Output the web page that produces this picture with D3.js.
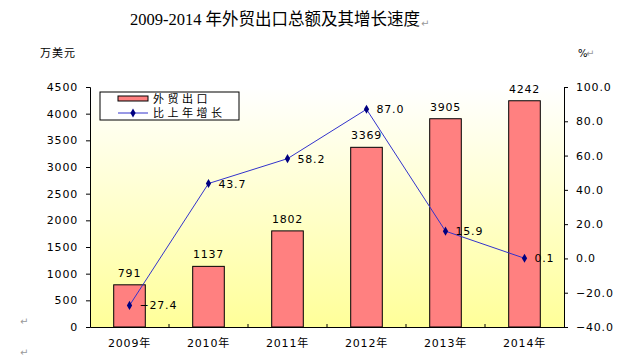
<!DOCTYPE html>
<html>
<head>
<meta charset="utf-8">
<script src="https://cdn.jsdelivr.net/npm/d3@7"></script>
<style>
  body { margin: 0; background: #fff; }
  svg { display: block; }
  text { font-family: "DejaVu Sans", "Noto Sans CJK SC", sans-serif; fill: #000; }
  .cjk { font-family: "Noto Sans CJK SC", sans-serif; }
  .mark { fill: #999; font-size: 10px; }
</style>
</head>
<body>
<svg></svg>
<script>
const years = ["2009年", "2010年", "2011年", "2012年", "2013年", "2014年"];
const exports = [791, 1137, 1802, 3369, 3905, 4242];
const growth = [-27.4, 43.7, 58.2, 87.0, 15.9, 0.1];
const leftTicks = [0, 500, 1000, 1500, 2000, 2500, 3000, 3500, 4000, 4500];
const rightTicks = [-40, -20, 0, 20, 40, 60, 80, 100];

const width = 639;
const height = 358;

const svg = d3.select("svg")
  .attr("width", width)
  .attr("height", height);

const plot = { left: 90, right: 564, top: 87, bottom: 327 };

const x = d3.scaleBand()
  .domain(years)
  .range([plot.left, plot.right])
  .paddingInner(0.6)
  .paddingOuter(0.3);

const xBand = d3.scaleBand()
  .domain(years)
  .range([plot.left, plot.right]);

const yLeft = d3.scaleLinear().domain([0, 4500]).range([plot.bottom, plot.top]);
const yRight = d3.scaleLinear().domain([-40, 100]).range([plot.bottom, plot.top]);

// background gradient
const grad = svg.append("defs").append("linearGradient")
  .attr("id", "bg")
  .attr("x1", 0).attr("y1", 0).attr("x2", 0).attr("y2", 1);
grad.append("stop").attr("offset", "0%").attr("stop-color", "#ffffff");
grad.append("stop").attr("offset", "100%").attr("stop-color", "#ffff99");

svg.append("rect")
  .attr("x", plot.left)
  .attr("y", plot.top)
  .attr("width", plot.right - plot.left)
  .attr("height", plot.bottom - plot.top)
  .attr("fill", "url(#bg)");

// title
svg.append("text")
  .attr("x", 130)
  .attr("y", 25)
  .style("font-family", "'Liberation Serif', 'Noto Sans CJK SC', serif")
  .attr("font-size", 16.5)
  .text("2009-2014 年外贸出口总额及其增长速度");
svg.append("text").attr("class", "mark").attr("x", 421).attr("y", 27).text("↵");

// units
svg.append("text").attr("class", "cjk")
  .attr("x", 40).attr("y", 57)
  .attr("font-size", 11)
  .attr("letter-spacing", 1)
  .text("万美元");
svg.append("text")
  .attr("x", 578).attr("y", 57)
  .attr("font-size", 10)
  .text("%");
svg.append("text").attr("class", "mark").attr("x", 586).attr("y", 57).text("↵");

svg.append("text").attr("class", "mark").attr("x", 20).attr("y", 325).text("↵");
svg.append("text").attr("class", "mark").attr("x", 20).attr("y", 356).text("↵");

// bars
svg.append("g")
  .selectAll("rect")
  .data(exports)
  .join("rect")
  .attr("x", (d, i) => x(years[i]))
  .attr("y", d => yLeft(d))
  .attr("width", x.bandwidth())
  .attr("height", d => plot.bottom - yLeft(d))
  .attr("fill", "#ff8080")
  .attr("stroke", "#000")
  .attr("stroke-width", 1);

svg.append("g")
  .selectAll("text")
  .data(exports)
  .join("text")
  .attr("x", (d, i) => x(years[i]) + x.bandwidth() / 2)
  .attr("y", d => yLeft(d) - 8)
  .attr("text-anchor", "middle")
  .attr("font-size", 11)
  .attr("letter-spacing", 0.8)
  .text(d => d);

// axes
const axisL = svg.append("g")
  .attr("transform", `translate(${plot.left},0)`)
  .call(d3.axisLeft(yLeft).tickValues(leftTicks).tickSize(4).tickPadding(8)
    .tickFormat(d3.format("d")));
axisL.selectAll("text").attr("font-size", 11).attr("letter-spacing", 0.8);

const axisR = svg.append("g")
  .attr("transform", `translate(${plot.right},0)`)
  .call(d3.axisRight(yRight).tickValues(rightTicks).tickSize(4).tickPadding(8)
    .tickFormat(d3.format(".1f")));
axisR.selectAll("text").attr("font-size", 11).attr("letter-spacing", 0.8);

const axisB = svg.append("g")
  .attr("transform", `translate(0,${plot.bottom})`)
  .call(d3.axisBottom(xBand).tickSize(0).tickPadding(12));
axisB.selectAll("text")
  .attr("font-size", 11)
  .attr("letter-spacing", 0.8);

// inner category ticks
svg.append("g")
  .selectAll("line")
  .data(years.slice(1))
  .join("line")
  .attr("x1", d => xBand(d))
  .attr("x2", d => xBand(d))
  .attr("y1", plot.bottom)
  .attr("y2", plot.bottom - 3)
  .attr("stroke", "#000");

[axisL, axisR, axisB].forEach(a => {
  a.select(".domain").attr("stroke", "#000");
  a.selectAll(".tick line").attr("stroke", "#000");
});

// growth line
const cx = (d, i) => xBand(years[i]) + xBand.bandwidth() / 2;

svg.append("path")
  .datum(growth)
  .attr("fill", "none")
  .attr("stroke", "#3333cc")
  .attr("stroke-width", 1)
  .attr("d", d3.line().x(cx).y(d => yRight(d)));

svg.append("g")
  .selectAll("path")
  .data(growth)
  .join("path")
  .attr("transform", (d, i) => `translate(${cx(d, i)},${yRight(d)})`)
  .attr("d", d3.symbol(d3.symbolDiamond, 24))
  .attr("fill", "#000080");

svg.append("g")
  .selectAll("text")
  .data(growth)
  .join("text")
  .attr("x", (d, i) => cx(d, i) + 10)
  .attr("y", d => yRight(d) + 4)
  .attr("font-size", 11)
  .attr("letter-spacing", 0.8)
  .text(d => d3.format(".1f")(d));

// legend
const legend = svg.append("g").attr("transform", "translate(100,92)");
legend.append("rect")
  .attr("width", 139)
  .attr("height", 28)
  .attr("fill", "#fff")
  .attr("stroke", "#000");
legend.append("rect")
  .attr("x", 18).attr("y", 4)
  .attr("width", 30).attr("height", 5)
  .attr("fill", "#ff8080")
  .attr("stroke", "#000");
legend.append("line")
  .attr("x1", 18).attr("x2", 48)
  .attr("y1", 21).attr("y2", 21)
  .attr("stroke", "#3333cc");
legend.append("path")
  .attr("transform", "translate(33,21)")
  .attr("d", d3.symbol(d3.symbolDiamond, 24))
  .attr("fill", "#000080");
legend.append("text").attr("class", "cjk")
  .attr("x", 53).attr("y", 10.5)
  .attr("font-size", 11)
  .attr("letter-spacing", 3.5)
  .text("外贸出口");
legend.append("text").attr("class", "cjk")
  .attr("x", 53).attr("y", 25)
  .attr("font-size", 11)
  .attr("letter-spacing", 3.5)
  .text("比上年增长");
</script>
</body>
</html>
